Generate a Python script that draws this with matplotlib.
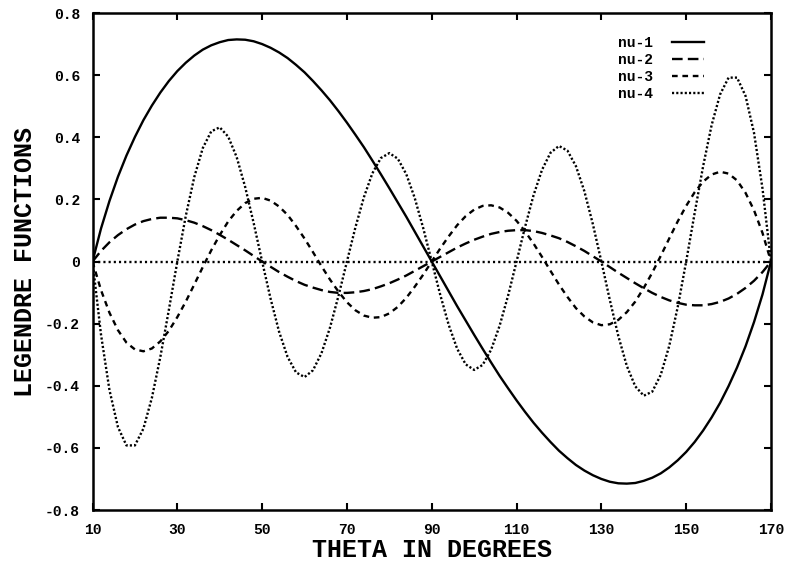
import matplotlib
matplotlib.use('Agg')
import matplotlib.pyplot as plt

# theta grid (degrees) and the four curves
theta = [10, 12, 14, 16, 18, 20, 22, 24, 26, 28, 30, 32, 34, 36, 38, 40, 42, 44, 46, 48,
         50, 52, 54, 56, 58, 60, 62, 64, 66, 68, 70, 72, 74, 76, 78, 80, 82, 84, 86, 88,
         90, 92, 94, 96, 98, 100, 102, 104, 106, 108, 110, 112, 114, 116, 118, 120, 122,
         124, 126, 128, 130, 132, 134, 136, 138, 140, 142, 144, 146, 148, 150, 152, 154,
         156, 158, 160, 162, 164, 166, 168, 170]

nu1 = [0, 0.106, 0.195, 0.273, 0.341, 0.401, 0.455, 0.502, 0.544, 0.581, 0.613, 0.640,
       0.663, 0.682, 0.696, 0.706, 0.713, 0.715, 0.714, 0.709, 0.700, 0.688, 0.673, 0.655,
       0.633, 0.609, 0.581, 0.551, 0.519, 0.484, 0.447, 0.408, 0.368, 0.325, 0.281, 0.236,
       0.190, 0.144, 0.096, 0.048, 0,
       -0.048, -0.096, -0.144, -0.190, -0.236, -0.281, -0.325, -0.368, -0.408, -0.447,
       -0.484, -0.519, -0.551, -0.581, -0.609, -0.633, -0.655, -0.673, -0.688, -0.700,
       -0.709, -0.714, -0.715, -0.713, -0.706, -0.696, -0.682, -0.663, -0.640, -0.613,
       -0.581, -0.544, -0.502, -0.455, -0.401, -0.341, -0.273, -0.195, -0.106, 0]

nu2 = [0, 0.034, 0.062, 0.085, 0.104, 0.119, 0.130, 0.137, 0.141, 0.141, 0.139, 0.133,
       0.125, 0.114, 0.101, 0.086, 0.070, 0.053, 0.036, 0.018, 0, -0.017, -0.034, -0.049,
       -0.063, -0.075, -0.084, -0.092, -0.098, -0.101, -0.101, -0.099, -0.095, -0.089,
       -0.080, -0.070, -0.058, -0.045, -0.030, -0.015, 0,
       0.015, 0.030, 0.045, 0.058, 0.070, 0.080, 0.089, 0.095, 0.099, 0.101, 0.101, 0.098,
       0.092, 0.084, 0.075, 0.063, 0.049, 0.034, 0.017, 0, -0.018, -0.036, -0.053, -0.070,
       -0.086, -0.101, -0.114, -0.125, -0.133, -0.139, -0.141, -0.141, -0.137, -0.130,
       -0.119, -0.104, -0.085, -0.062, -0.034, 0]

nu3 = [0, -0.092, -0.165, -0.221, -0.261, -0.283, -0.289, -0.280, -0.257, -0.223, -0.179,
       -0.129, -0.074, -0.018, 0.036, 0.085, 0.129, 0.163, 0.188, 0.202, 0.205, 0.196,
       0.177, 0.150, 0.114, 0.074, 0.030, -0.015, -0.058, -0.097, -0.131, -0.157, -0.174,
       -0.181, -0.179, -0.167, -0.146, -0.117, -0.081, -0.042, 0,
       0.042, 0.081, 0.117, 0.146, 0.167, 0.179, 0.181, 0.174, 0.157, 0.131, 0.097, 0.058,
       0.015, -0.030, -0.074, -0.114, -0.150, -0.177, -0.196, -0.205, -0.202, -0.188,
       -0.163, -0.129, -0.085, -0.036, 0.018, 0.074, 0.129, 0.179, 0.223, 0.257, 0.280,
       0.289, 0.283, 0.261, 0.221, 0.165, 0.092, 0]

nu4 = [0, -0.235, -0.414, -0.533, -0.592, -0.592, -0.538, -0.439, -0.307, -0.156, 0,
       0.147, 0.272, 0.365, 0.419, 0.432, 0.402, 0.336, 0.240, 0.124, 0,
       -0.120, -0.226, -0.307, -0.357, -0.372, -0.350, -0.295, -0.213, -0.111, 0,
       0.110, 0.207, 0.284, 0.333, 0.349, 0.331, 0.281, 0.204, 0.107, 0,
       -0.107, -0.204, -0.281, -0.331, -0.349, -0.333, -0.284, -0.207, -0.110, 0,
       0.111, 0.213, 0.295, 0.350, 0.372, 0.357, 0.307, 0.226, 0.120, 0,
       -0.124, -0.240, -0.336, -0.402, -0.432, -0.419, -0.365, -0.272, -0.147, 0,
       0.156, 0.307, 0.439, 0.538, 0.592, 0.592, 0.533, 0.414, 0.235, 0]

xticks = [10, 30, 50, 70, 90, 110, 130, 150, 170]
yticks = [-0.8, -0.6, -0.4, -0.2, 0, 0.2, 0.4, 0.6, 0.8]
ytick_labels = ['-0.8', '-0.6', '-0.4', '-0.2', '0', '0.2', '0.4', '0.6', '0.8']

plt.rcParams['font.family'] = ['Liberation Mono', 'DejaVu Sans']
plt.rcParams['font.weight'] = 'bold'

fig = plt.figure(figsize=(7.88, 5.63), dpi=100)
ax = fig.add_axes([0.1174, 0.0941, 0.861, 0.8828])

lw = 1.7
ax.axhline(0, color='black', lw=lw, dashes=(0.9, 1.3))
ax.plot(theta, nu1, color='black', lw=lw, label='nu-1')
ax.plot(theta, nu2, color='black', lw=lw, dashes=(4.5, 2.2), label='nu-2')
ax.plot(theta, nu3, color='black', lw=lw, dashes=(2.4, 2.0), label='nu-3')
ax.plot(theta, nu4, color='black', lw=lw, dashes=(0.9, 0.9), label='nu-4')

ax.set_xlim(10, 170)
ax.set_ylim(-0.8, 0.8)
ax.set_xticks(xticks)
ax.set_yticks(yticks)
ax.set_yticklabels(ytick_labels)
ax.tick_params(direction='in', top=True, right=True, length=5, width=1.5,
               labelsize=10.5, pad=9)
for s in ax.spines.values():
    s.set_linewidth(1.8)

ax.set_xlabel('THETA IN DEGREES', fontsize=18, fontweight='bold', labelpad=1)
ax.set_ylabel('LEGENDRE FUNCTIONS', fontsize=18, fontweight='bold', labelpad=6)

leg = ax.legend(loc='upper right', bbox_to_anchor=(0.91, 0.965), frameon=False,
                markerfirst=False, fontsize=10.5, handlelength=2.2,
                labelspacing=0.2, handletextpad=1.3, borderaxespad=0)

fig.savefig('out.png', dpi=100)
